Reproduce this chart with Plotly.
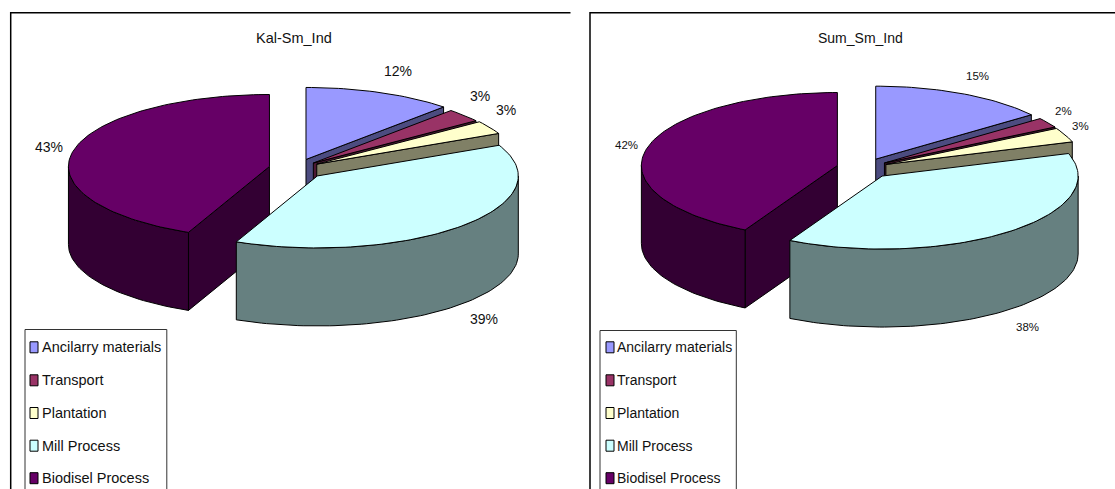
import math
import plotly.graph_objects as go

# ---------- data ----------
categories = ["Ancilarry materials", "Transport", "Plantation", "Mill Process", "Biodisel Process"]
kal_title = "Kal-Sm_Ind"
kal_values = [12.0, 3.0, 3.0, 38.6, 43.4]
sum_title = "Sum_Sm_Ind"
sum_values = [14.6, 2.2, 3.2, 37.8, 42.2]

# ---------- styles ----------
top_colors = ["#9999FF", "#993366", "#FFFFCC", "#CCFFFF", "#660066"]
side_colors = ["#4C4C80", "#4C1933", "#808066", "#668080", "#330033"]
FONT = "Liberation Sans, Arial, sans-serif"
DRAW_ORDER = [0, 1, 2, 4, 3]

# ---------- layout of each panel (pixels of the 1115x489 canvas) ----------
kal_panel = dict(cx=296, cy=168.5, a=201, b=72, depth=78, explode=[.135, .115, .12, .148, .135],
                 label_size=14, text_size=14.5, frame_x=(10.7, 570.5), title_x=294,
                 legend_box=(25, 166.8, 329.5), swatch_x=34, text_x=40,
                 label_xy=[(397.5, 70.7), (480, 95.7), (506, 110), (484, 319), (49, 146.7)])
sum_panel = dict(cx=864, cy=168, a=196, b=73, depth=78, explode=[.135, .125, .122, .144, .14],
                 label_size=11.5, text_size=14, frame_x=(590, 1115), title_x=860,
                 legend_box=(600, 736.3, 330.5), swatch_x=610, text_x=615,
                 label_xy=[(977, 76.3), (1063, 111), (1080.7, 125.7), (1027, 326.7), (626, 145)])
legend_rows = [347.3, 380.3, 413, 445.7, 478.2]
FRAME_TOP = 12.7

fig = go.Figure()


def add_poly(xs, ys, color):
    fig.add_trace(go.Scatter(x=xs, y=ys, mode="lines", fill="toself", fillcolor=color,
                             line=dict(color="black", width=1), hoverinfo="skip",
                             showlegend=False))


def arc(cx, cy, a, b, t0, t1, dy=0.0):
    n = max(2, int(abs(t1 - t0) / 1.5) + 1)
    ts = [math.radians(t0 + (t1 - t0) * i / (n - 1)) for i in range(n)]
    return [cx + a * math.sin(t) for t in ts], [cy - b * math.cos(t) + dy for t in ts]


def draw_panel(values, title, p):
    total = sum(values)
    starts, c = [], 0.0
    for v in values:
        starts.append(c)
        c += v / total * 360.0
    for i in DRAW_ORDER:
        t0 = starts[i]
        t1 = t0 + values[i] / total * 360.0
        mid = math.radians((t0 + t1) / 2)
        k = p["explode"][i]
        cx = p["cx"] + k * p["a"] * math.sin(mid)
        cy = p["cy"] - k * p["b"] * math.cos(mid)
        a, b, d = p["a"], p["b"], p["depth"]
        # radial faces turned towards the viewer
        for t, visible in ((t1, math.sin(math.radians(t1)) > 0), (t0, math.sin(math.radians(t0)) < 0)):
            if visible:
                rx, ry = arc(cx, cy, a, b, t, t)
                rx, ry = rx[0], ry[0]
                add_poly([cx, rx, rx, cx, cx], [cy, ry, ry + d, cy + d, cy], side_colors[i])
        # outer wall
        w0, w1 = max(t0, 90.0), min(t1, 270.0)
        if w1 > w0:
            ux, uy = arc(cx, cy, a, b, w0, w1)
            lx, ly = arc(cx, cy, a, b, w1, w0, d)
            add_poly(ux + lx + ux[:1], uy + ly + uy[:1], side_colors[i])
        # top surface
        ax, ay = arc(cx, cy, a, b, t0, t1)
        add_poly([cx] + ax + [cx], [cy] + ay + [cy], top_colors[i])

    # percent labels
    for v, (x, y) in zip(values, p["label_xy"]):
        fig.add_annotation(x=x, y=y, text=f"{round(v)}%", showarrow=False,
                           font=dict(family=FONT, size=p["label_size"], color="#111"))
    # title
    fig.add_annotation(x=p["title_x"], y=38, text=title, showarrow=False,
                       font=dict(family=FONT, size=p["text_size"], color="#111"))
    # frame (open at the right and bottom: cropped in the source)
    x0, x1 = p["frame_x"]
    fig.add_shape(type="path", path=f"M {x0} 500 L {x0} {FRAME_TOP} L {x1} {FRAME_TOP}",
                  line=dict(color="black", width=1.5))
    # legend box, cropped at the bottom
    bx0, bx1, by = p["legend_box"]
    fig.add_shape(type="path", path=f"M {bx0} 500 L {bx0} {by} L {bx1} {by} L {bx1} 500",
                  line=dict(color="#333", width=1))
    for name, color, y in zip(categories, top_colors, legend_rows):
        sx, hw, hh = p["swatch_x"], 4, 5.5
        add_poly([sx - hw, sx + hw, sx + hw, sx - hw, sx - hw],
                 [y - hh, y - hh, y + hh, y + hh, y - hh], color)
        fig.add_annotation(x=p["text_x"], y=y, text=name, showarrow=False, xanchor="left",
                           font=dict(family=FONT, size=p["text_size"], color="#111"))


draw_panel(kal_values, kal_title, kal_panel)
draw_panel(sum_values, sum_title, sum_panel)

fig.update_layout(
    width=1115, height=489, margin=dict(l=0, r=0, t=0, b=0),
    paper_bgcolor="white", plot_bgcolor="white", showlegend=False,
    xaxis=dict(range=[0, 1115], visible=False, fixedrange=True),
    yaxis=dict(range=[489, 0], visible=False, fixedrange=True),
)
fig.write_html("out.html", post_script="document.body.style.margin='0';",
               config={"displayModeBar": False})
